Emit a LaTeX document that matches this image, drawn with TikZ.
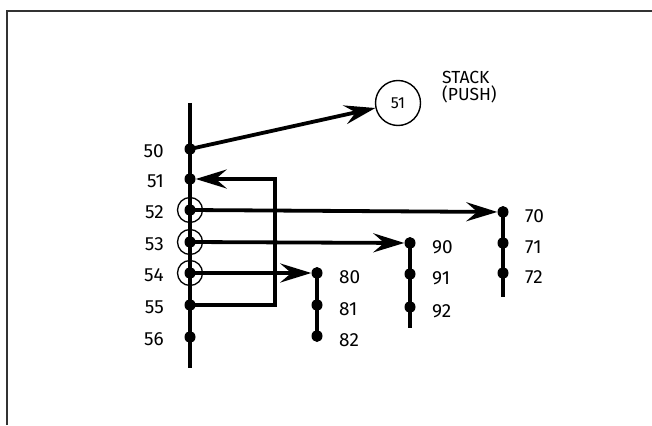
\documentclass[tikz,border=0pt]{standalone}
\usepackage{fontspec}
\setmainfont{Fira Sans}
\usetikzlibrary{arrows.meta,shapes.geometric}
\begin{document}
\begin{tikzpicture}[x=1pt,y=-1pt,
  frame/.style={line width=1.3pt,draw=black!80},
  mainline/.style={line width=4.4pt},
  arr/.style={line width=3.8pt,-{Stealth[length=31pt,width=19pt,inset=11pt]}},
  dot/.style={ellipse,fill,inner sep=0pt,minimum width=11pt,minimum height=12pt},
  ring/.style={circle,draw,line width=1.3pt,inner sep=0pt,minimum size=25pt},
  lbl/.style={font=\fontsize{19}{19}\selectfont,inner sep=0pt},
  stk/.style={font=\fontsize{17.5}{17.5}\selectfont,inner sep=0pt,anchor=base west},
  stackc/.style={circle,draw,line width=1.4pt,inner sep=0pt,minimum size=45pt,font=\fontsize{16}{16}\selectfont}]
\useasboundingbox (0,0) rectangle (652,425);
\draw[frame] (7,425) -- (7,11) -- (652,11);
% main trunk
\coordinate (top) at (190,103);
\coordinate (bot) at (190,368);
\draw[mainline] (top) -- (bot);
\foreach \n/\y in {50/149,51/179,52/210,53/242,54/273,55/305,56/337}{
  \node[dot] (n\n) at (190,\y) {};
  \node[lbl,anchor=east] (l\n) at (164,\y+2) {\n};
}
\foreach \n in {52,53,54}{\node[ring] (r\n) at (n\n) {};}
% branch 70
\node[dot] (n70) at (503,212) {};
\node[dot] (n71) at (503,243) {};
\node[dot] (n72) at (503,273) {};
\coordinate (e70) at (503,297);
\draw[mainline] (n70.center) -- (e70);
% branch 90
\node[dot] (n90) at (410,243) {};
\node[dot] (n91) at (410,274) {};
\node[dot] (n92) at (410,307) {};
\coordinate (e90) at (410,328);
\draw[mainline] (n90.center) -- (e90);
% branch 80
\node[dot] (n80) at (317,273) {};
\node[dot] (n81) at (317,305) {};
\node[dot] (n82) at (317,336) {};
\draw[mainline] (n80.center) -- (n82.center);
\foreach \n in {70,71,72,90,91,92,80,81,82}{
  \node[lbl,anchor=west] (l\n) at ([xshift=22pt,yshift=-4pt]n\n.center) {\n};
}
% stack
\node[stackc] (s51) at (398,103) {51};
\node[stk] (stk1) at (442,84) {STACK};
\node[stk] (stk2) at (442,101) {(PUSH)};
% arrows
\draw[arr] (n50.center) -- (s51);
\draw[arr] (n55.center) -- ++(85,0) |- (n51.east);
\draw[arr] (n52.center) -- (n70);
\draw[arr] (n53.center) -- (n90);
\draw[arr] (n54.center) -- (n80);
\end{tikzpicture}
\end{document}
